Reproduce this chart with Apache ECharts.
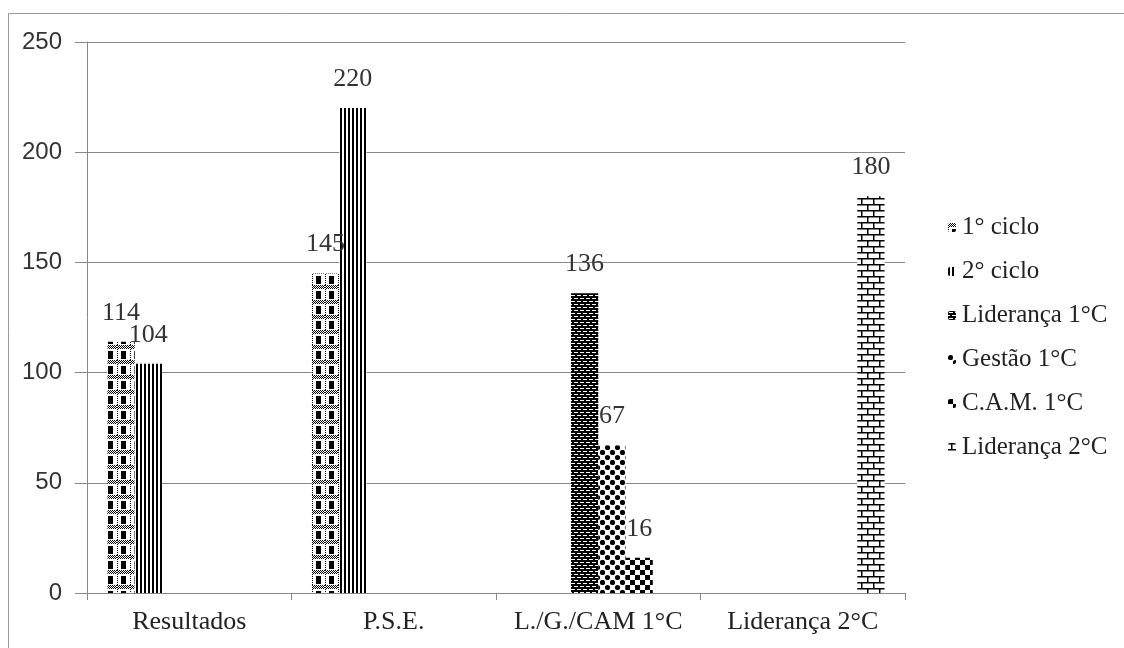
<!DOCTYPE html>
<html>
<head>
<meta charset="utf-8">
<script src="https://cdn.jsdelivr.net/npm/echarts@6/dist/echarts.min.js"></script>
<style>
  html, body { margin: 0; padding: 0; background: #fff; }
  #chart { width: 1124px; height: 648px; }
</style>
</head>
<body>
<div id="chart"></div>
<script>
const categories = ["Resultados", "P.S.E.", "L./G./CAM 1°C", "Liderança 2°C"];
const ciclo1 = [114, 145, null, null];
const ciclo2 = [104, 220, null, null];
const lideranca1 = [null, null, 136, null];
const gestao1 = [null, null, 67, null];
const cam1 = [null, null, 16, null];
const lideranca2 = [null, null, null, 180];
const yTicks = { min: 0, max: 250, interval: 50 };

// little canvas tiles that mimic the Excel hatch fills
function tile(w, h, draw) {
  const c = document.createElement("canvas");
  c.width = w;
  c.height = h;
  const ctx = c.getContext("2d");
  ctx.fillStyle = "#fff";
  ctx.fillRect(0, 0, w, h);
  ctx.fillStyle = "#000";
  ctx.strokeStyle = "#000";
  draw(ctx);
  return { image: c, repeat: "repeat" };
}

const patCiclo1 = tile(13, 15, (ctx) => {
  for (let y = 0; y < 4; y++)
    for (let x = 0; x < 13; x++) if ((x + y) % 2 === 0) ctx.fillRect(x, y, 1, 1);
  ctx.fillRect(4, 6, 5, 8);
  for (let y = 4; y < 15; y += 2) ctx.fillRect(0, y, 1, 1);
});
const patCiclo2 = tile(4, 4, (ctx) => {
  ctx.fillRect(0, 0, 2, 4);
});
const patLid1 = tile(6, 6, (ctx) => {
  ctx.fillRect(0, 0, 6, 6);
  ctx.fillStyle = "#fff";
  ctx.fillRect(1, 1, 4, 1);
  ctx.fillRect(4, 4, 2, 1);
  ctx.fillRect(0, 4, 2, 1);
});
const patGestao = tile(10, 10, (ctx) => {
  ctx.beginPath();
  ctx.arc(2.5, 2.5, 2.6, 0, Math.PI * 2);
  ctx.fill();
  ctx.beginPath();
  ctx.arc(7.5, 7.5, 2.6, 0, Math.PI * 2);
  ctx.fill();
});
const patCam = tile(10, 10, (ctx) => {
  ctx.fillRect(0, 0, 5, 5);
  ctx.fillRect(5, 5, 5, 5);
});
const patLid2 = tile(12, 12, (ctx) => {
  ctx.fillRect(0, 0, 12, 1.5);
  ctx.fillRect(0, 6, 12, 1.5);
  ctx.fillRect(3, 0, 1.5, 6);
  ctx.fillRect(9, 6, 1.5, 6);
});

const serif = "Liberation Serif";

function barSeries(name, data, pattern) {
  return {
    name: name,
    type: "bar",
    data: data,
    barGap: "0%",
    barCategoryGap: "20%",
    itemStyle: { color: pattern },
    label: {
      show: true,
      position: "top",
      distance: 16,
      fontFamily: serif,
      fontSize: 26,
      color: "#333",
    },
  };
}

const chart = echarts.init(document.getElementById("chart"));
chart.setOption({
  animation: false,
  backgroundColor: "#fff",
  graphic: [
    {
      type: "rect",
      shape: { x: 8.5, y: 13.5, width: 1130, height: 650 },
      style: { fill: "none", stroke: "#999", lineWidth: 1 },
      silent: true,
    },
  ],
  grid: { left: 87, right: 219, top: 42, bottom: 55 },
  legend: {
    orient: "vertical",
    left: 943,
    top: 210,
    itemWidth: 8,
    itemHeight: 9,
    itemGap: 19,
    textStyle: { fontFamily: serif, fontSize: 25, color: "#222", padding: [0, 0, 0, 1] },
    data: ["1° ciclo", "2° ciclo", "Liderança 1°C", "Gestão 1°C", "C.A.M. 1°C", "Liderança 2°C"],
  },
  xAxis: {
    type: "category",
    data: categories,
    axisLine: { lineStyle: { color: "#888" } },
    axisTick: { show: true, length: 7, lineStyle: { color: "#888" } },
    axisLabel: { interval: 0, fontFamily: serif, fontSize: 26, color: "#222", margin: 16 },
  },
  yAxis: {
    type: "value",
    min: yTicks.min,
    max: yTicks.max,
    interval: yTicks.interval,
    axisLine: { show: true, lineStyle: { color: "#888" } },
    axisTick: { show: true, length: 12, lineStyle: { color: "#888" } },
    axisLabel: { fontFamily: "Liberation Sans", fontSize: 24, color: "#333", margin: 25 },
    splitLine: { lineStyle: { color: "#888" } },
  },
  series: [
    barSeries("1° ciclo", ciclo1, patCiclo1),
    barSeries("2° ciclo", ciclo2, patCiclo2),
    barSeries("Liderança 1°C", lideranca1, patLid1),
    barSeries("Gestão 1°C", gestao1, patGestao),
    barSeries("C.A.M. 1°C", cam1, patCam),
    barSeries("Liderança 2°C", lideranca2, patLid2),
  ],
});
</script>
</body>
</html>
